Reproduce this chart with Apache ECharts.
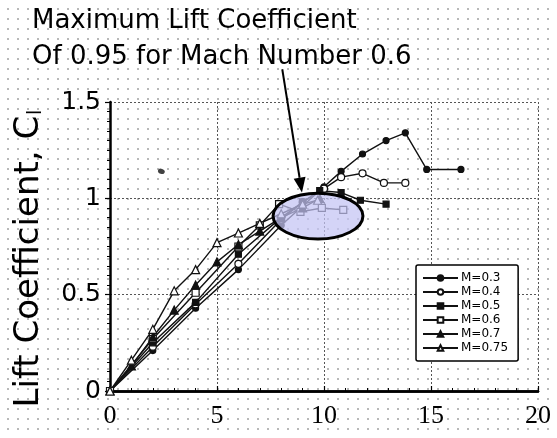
<!DOCTYPE html>
<html>
<head>
<meta charset="utf-8">
<script src="https://cdn.jsdelivr.net/npm/echarts@6/dist/echarts.min.js"></script>
<style>
  html, body { margin: 0; padding: 0; }
  body {
    width: 557px; height: 438px; overflow: hidden;
    background-color: #ffffff;
    background-image: radial-gradient(circle, #b8b8b8 0.9px, rgba(255,255,255,0) 1.3px);
    background-size: 10px 10px;
    background-position: 3px 4px;
  }
  #chart { width: 557px; height: 438px; }
</style>
</head>
<body>
<div id="chart"></div>
<script>
// ---- data (angle of attack in degrees, lift coefficient) ----
const seriesNames = ['M=0.3', 'M=0.4', 'M=0.5', 'M=0.6', 'M=0.7', 'M=0.75'];
const mach030 = [[0,0],[2,0.21],[4,0.43],[6,0.63],[8,0.86],[9,0.96],[10,1.06],[10.8,1.14],[11.8,1.23],[12.9,1.30],[13.8,1.34],[14.8,1.15],[16.4,1.15]];
const mach040 = [[0,0],[2,0.23],[4,0.45],[6,0.66],[8,0.89],[9,0.98],[10,1.05],[10.8,1.11],[11.8,1.13],[12.8,1.08],[13.8,1.08]];
const mach050 = [[0,0],[2,0.25],[4,0.46],[6,0.71],[8,0.90],[9,0.98],[9.8,1.04],[10.8,1.03],[11.7,0.99],[12.9,0.97]];
const mach060 = [[0,0],[2,0.27],[4,0.51],[6,0.75],[7,0.86],[7.9,0.97],[8.9,0.93],[9.9,0.95],[10.9,0.94]];
const mach070 = [[0,0],[1,0.13],[2,0.28],[3,0.42],[4,0.55],[5,0.67],[6,0.76],[7,0.83],[8,0.90],[9,0.95],[9.8,1.00]];
const mach075 = [[0,0],[1,0.16],[2,0.32],[3,0.52],[4,0.63],[5,0.77],[6,0.82],[7,0.87],[8,0.92],[9,0.97],[9.7,0.99]];
const strayPoint = [[2.4,1.14]];
const xTicks = [0, 5, 10, 15, 20];
const yTicks = [0, 0.5, 1, 1.5];
const titleLines = ['Maximum Lift Coefficient', 'Of 0.95 for Mach Number 0.6'];
// annotation anchors (data units)
const ellipseCenter = [9.72, 0.908];
const ellipseRadius = [2.1, 0.119];
const arrowFrom = [8.05, 1.67];
const arrowTo = [8.97, 1.03];

const chart = echarts.init(document.getElementById('chart'), null, { renderer: 'canvas' });

function mk(name, data, symbol, size, filled) {
  return {
    name: name, type: 'line', data: data,
    symbol: symbol, symbolSize: size,
    lineStyle: { color: '#111', width: 1.4 },
    itemStyle: { color: filled ? '#111' : '#fff', borderColor: '#111', borderWidth: 1.2 },
    emphasis: { disabled: true },
    z: 3
  };
}

const option = {
  animation: false,
  backgroundColor: 'transparent',
  title: {
    text: titleLines.join('\n'),
    left: 27, top: -2,
    textStyle: { fontFamily: 'DejaVu Sans', fontSize: 26, fontWeight: 'normal', color: '#000', lineHeight: 36 }
  },
  grid: { left: 110, right: 19, top: 102, bottom: 47 },
  legend: {
    orient: 'vertical',
    left: 416, top: 265,
    data: seriesNames,
    itemWidth: 35, itemHeight: 7, itemGap: 2,
    padding: [7, 10, 7, 6],
    borderColor: '#000', borderWidth: 1.5, borderRadius: 2,
    backgroundColor: '#fff',
    textStyle: { fontFamily: 'DejaVu Sans', fontSize: 12, color: '#000', padding: [0, 0, 0, -2] }
  },
  xAxis: [{
    type: 'value', min: xTicks[0], max: xTicks[xTicks.length - 1], interval: 5,
    axisLine: { show: true, onZero: false, lineStyle: { color: '#000', width: 2.5 } },
    axisTick: { show: true, inside: true, length: 5, lineStyle: { color: '#000', width: 1.2 } },
    minorTick: { show: true, splitNumber: 5, length: 3, lineStyle: { color: '#000', width: 1 } },
    axisLabel: { fontFamily: 'Liberation Serif', fontSize: 26, color: '#000', margin: 12 },
    splitLine: { show: true, lineStyle: { color: '#555', width: 1, type: [2, 2] } }
  }, {
    type: 'value', position: 'top', min: xTicks[0], max: xTicks[xTicks.length - 1],
    axisLine: { show: true, lineStyle: { color: '#000', width: 2.5 } },
    axisTick: { show: false }, axisLabel: { show: false }, splitLine: { show: false }
  }],
  yAxis: {
    type: 'value', min: yTicks[0], max: yTicks[yTicks.length - 1], interval: 0.5,
    name: '{a|Lift Coefficient, C}{b|l}',
    nameLocation: 'middle', nameGap: 64, nameRotate: 90,
    nameTextStyle: {
      padding: [0, 24, 0, 0],
      rich: {
        a: { fontFamily: 'DejaVu Sans', fontSize: 34, color: '#000' },
        b: { fontFamily: 'DejaVu Sans', fontSize: 19, color: '#000', padding: [14, 0, 0, 1] }
      }
    },
    axisLine: { show: true, lineStyle: { color: '#000', width: 2.5 } },
    axisTick: { show: true, length: 5, lineStyle: { color: '#000', width: 1.2 } },
    minorTick: { show: true, splitNumber: 10, length: 3, lineStyle: { color: '#000', width: 1 } },
    axisLabel: { fontFamily: 'DejaVu Sans', fontSize: 25, color: '#000', margin: 9 },
    splitLine: { show: true, lineStyle: { color: '#555', width: 1, type: [2, 2] } }
  },
  series: [
    mk(seriesNames[0], mach030, 'circle', 6, true),
    mk(seriesNames[1], mach040, 'circle', 7, false),
    mk(seriesNames[2], mach050, 'rect', 6, true),
    mk(seriesNames[3], mach060, 'rect', 7, false),
    mk(seriesNames[4], mach070, 'triangle', 8, true),
    mk(seriesNames[5], mach075, 'triangle', 8, false),
    {
      name: 'stray', type: 'scatter', data: strayPoint,
      symbol: 'circle', symbolSize: [7, 5], symbolRotate: -20,
      itemStyle: { color: '#111' }, z: 3
    }
  ]
};
chart.setOption(option);

// annotation: ellipse + arrow, placed from data coordinates
const c = chart.convertToPixel({ gridIndex: 0 }, ellipseCenter);
const e1 = chart.convertToPixel({ gridIndex: 0 }, [ellipseCenter[0] + ellipseRadius[0], ellipseCenter[1] + ellipseRadius[1]]);
const rx = Math.abs(e1[0] - c[0]), ry = Math.abs(e1[1] - c[1]);
const p0 = chart.convertToPixel({ gridIndex: 0 }, arrowFrom);
const p1 = chart.convertToPixel({ gridIndex: 0 }, arrowTo);
const dx = p1[0] - p0[0], dy = p1[1] - p0[1];
const len = Math.sqrt(dx * dx + dy * dy);
const ux = dx / len, uy = dy / len;
const headL = 15, headW = 6;
const base = [p1[0] - ux * headL, p1[1] - uy * headL];
chart.setOption({
  graphic: [
    {
      type: 'ellipse', z: 50,
      shape: { cx: c[0], cy: c[1], rx: rx, ry: ry },
      style: { fill: 'rgba(196,196,244,0.72)', stroke: '#000', lineWidth: 3 }
    },
    {
      type: 'line', z: 51,
      shape: { x1: p0[0], y1: p0[1], x2: base[0], y2: base[1] },
      style: { stroke: '#000', lineWidth: 2 }
    },
    {
      type: 'polygon', z: 51,
      shape: { points: [p1, [base[0] - uy * headW, base[1] + ux * headW], [base[0] + uy * headW, base[1] - ux * headW]] },
      style: { fill: '#000' }
    }
  ]
});
</script>
</body>
</html>
